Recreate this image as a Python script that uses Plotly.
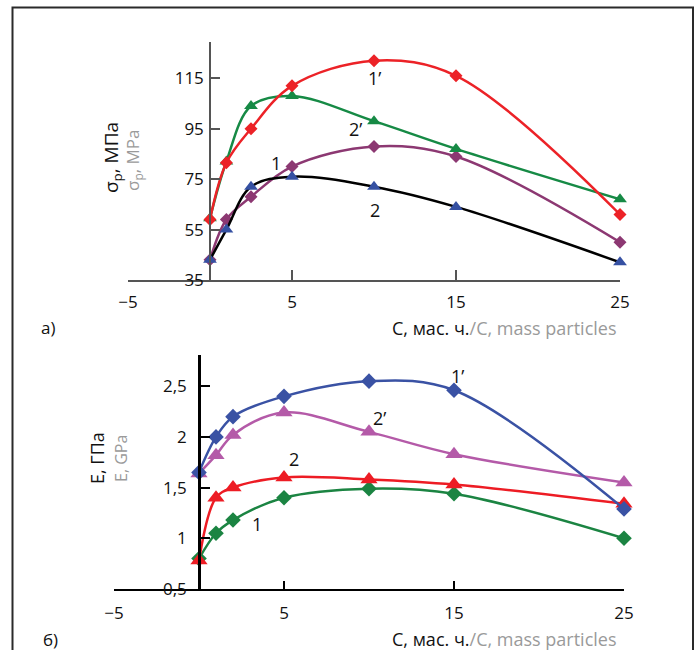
import plotly.graph_objects as go

# ---- data: top chart (tensile strength) ----
x_top = [0, 1, 2.5, 5, 10, 15, 25]
s_1p = [59, 81.5, 95, 112, 122, 116, 61]
s_2p = [59.5, 82, 104, 108, 98, 87, 67]
s_1 = [43, 59, 68, 80, 88, 84, 50]
s_2 = [43, 55, 72, 76, 72, 64, 42]
top_yticks = [35, 55, 75, 95, 115]
top_xticks = [-5, 5, 15, 25]

# ---- data: bottom chart (modulus) ----
x_bot = [0, 1, 2, 5, 10, 15, 25]
e_1p = [1.65, 2.0, 2.2, 2.4, 2.55, 2.46, 1.29]
e_2p = [1.64, 1.82, 2.02, 2.24, 2.05, 1.83, 1.55]
e_2 = [0.78, 1.40, 1.50, 1.60, 1.58, 1.53, 1.34]
e_1 = [0.80, 1.05, 1.18, 1.40, 1.49, 1.44, 1.00]
bot_yticks = [0.5, 1, 1.5, 2, 2.5]
bot_yticktext = ["0,5", "1", "1,5", "2", "2,5"]
bot_xticks = [-5, 5, 15, 25]

W, H = 696, 650
FONT = "Open Sans"
GRAY = "#9a9a9a"

def px(p):
    return p / W

def py(p):
    return 1 - p / H

fig = go.Figure()

def add(x, y, lc, mc, sym, msize, xa, ya):
    fig.add_trace(go.Scatter(
        x=x, y=y, mode="lines+markers", xaxis=xa, yaxis=ya,
        line=dict(color=lc, width=2.5, shape="spline", smoothing=1.0),
        marker=dict(color=mc, symbol=sym, size=msize, line=dict(width=0)),
        cliponaxis=False, showlegend=False))

# top
add(x_top, s_1, "#8c3872", "#8c3872", "diamond", 10, "x", "y")
add(x_top, s_2, "#000000", "#3550a2", "triangle-up", 12, "x", "y")
add(x_top, s_2p, "#168a45", "#168a45", "triangle-up", 12, "x", "y")
add(x_top, s_1p, "#ec2227", "#ec2227", "diamond", 10, "x", "y")
# bottom
add(x_bot, e_1, "#1b8442", "#1b8442", "diamond", 12, "x2", "y2")
add(x_bot, e_2, "#ed1c24", "#ed1c24", "triangle-up", 15, "x2", "y2")
add(x_bot, e_2p, "#b45aa8", "#b45aa8", "triangle-up", 15, "x2", "y2")
add(x_bot, e_1p, "#3a52a4", "#3a52a4", "diamond", 12, "x2", "y2")

tickfont = dict(family=FONT, size=17, color="#111")

fig.update_layout(
    width=W, height=H, margin=dict(l=0, r=0, t=0, b=0),
    paper_bgcolor="white", plot_bgcolor="rgba(0,0,0,0)",
    font=dict(family=FONT, size=17, color="#111"),
    xaxis=dict(domain=[px(128), px(620)], range=[-5, 25], anchor="y",
               showline=True, linecolor="#555", linewidth=1.5,
               ticks="inside", ticklen=10, tickcolor="#555", tickwidth=1.5,
               tickvals=top_xticks, tickfont=tickfont, ticklabelstandoff=6,
               showgrid=False, zeroline=False, automargin=False),
    yaxis=dict(domain=[py(280), py(42)], range=[35, 129.4],
               anchor="free", position=px(210),
               showline=True, linecolor="#555", linewidth=1.5,
               ticks="inside", ticklen=9, tickcolor="#555", tickwidth=1.5,
               tickvals=top_yticks, tickfont=tickfont, ticklabelstandoff=2,
               showgrid=False, zeroline=False, automargin=False),
    xaxis2=dict(domain=[px(114), px(624)], range=[-5, 25], anchor="y2",
                showline=True, linecolor="#000", linewidth=2,
                ticks="inside", ticklen=8, tickcolor="#000", tickwidth=2,
                tickvals=bot_xticks, tickfont=tickfont, ticklabelstandoff=8,
                showgrid=False, zeroline=False, automargin=False),
    yaxis2=dict(domain=[py(589), py(355)], range=[0.5, 2.808],
                anchor="free", position=px(199),
                showline=True, linecolor="#000", linewidth=2.5,
                ticks="inside", ticklen=9, tickcolor="#000", tickwidth=2,
                tickvals=bot_yticks, ticktext=bot_yticktext, tickfont=tickfont,
                ticklabelstandoff=8,
                showgrid=False, zeroline=False, automargin=False),
)

ann = []
def pa(text, x, y, size=17, color="#111", angle=0, xanchor="center"):
    ann.append(dict(text=text, x=px(x), y=py(y), xref="paper", yref="paper",
                    showarrow=False, textangle=angle, xanchor=xanchor, yanchor="middle",
                    font=dict(family=FONT, size=size, color=color)))

# y titles
pa("σ<sub>р</sub>, МПа", 112, 158, size=19, angle=-90)
pa("σ<sub>р</sub>, MPa", 134, 161, size=17, color=GRAY, angle=-90)
pa("Е, ГПа", 97, 458, size=18, angle=-90)
pa("E, GPa", 121, 459, size=16, color=GRAY, angle=-90)
# x titles
xt = 'С, мас. ч.<span style="color:%s">/C, mass particles</span>' % GRAY
pa(xt, 619, 328, size=18, xanchor="right")
pa(xt, 619, 639, size=18, xanchor="right")
# panel letters
pa("а)", 48, 327, size=17)
pa("б)", 51, 639, size=17)

# curve labels
def da(text, x, y, xr, yr):
    ann.append(dict(text=text, x=x, y=y, xref=xr, yref=yr, showarrow=False,
                    font=dict(family=FONT, size=18, color="#111")))
da("1’", 10, 115, "x", "y")
da("2’", 8.9, 95, "x", "y")
da("1", 4.0, 81.5, "x", "y")
da("2", 10.05, 62.8, "x", "y")
da("1’", 15.2, 2.6, "x2", "y2")
da("2’", 10.6, 2.19, "x2", "y2")
da("2", 5.6, 1.78, "x2", "y2")
da("1", 3.4, 1.14, "x2", "y2")

fig.update_layout(annotations=ann)

# frame border
fig.add_shape(type="rect", xref="paper", yref="paper",
              x0=px(12.5), x1=px(693), y0=-0.05, y1=py(7.5),
              line=dict(color="#2a2a2a", width=2), fillcolor="rgba(0,0,0,0)")

fig.write_html(
    "out.html",
    config={"displayModeBar": False},
    post_script="document.body.style.margin='0';document.body.style.overflow='hidden';",
)
